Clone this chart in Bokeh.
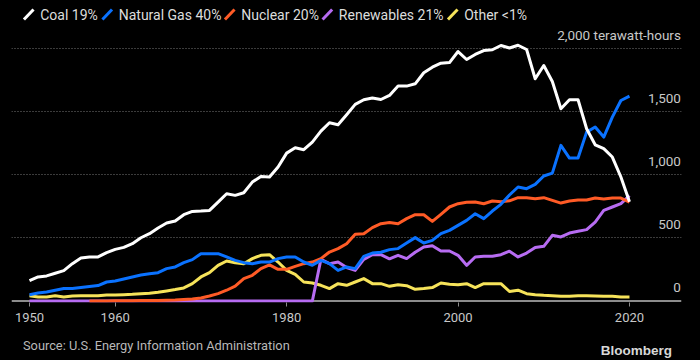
from bokeh.plotting import figure
from bokeh.layouts import column
from bokeh.models import Range1d, FixedTicker, Span
from bokeh.core.properties import value
from bokeh.embed import file_html
from bokeh.resources import INLINE

# ---------------- data (terawatt-hours) ----------------
years = list(range(1950, 2021))

coal = [160, 190, 198, 219, 240, 295, 340, 348, 348, 382,
        408, 424, 453, 500, 532, 577, 616, 632, 682, 708,
        711, 716, 782, 848, 835, 856, 940, 985, 980, 1059,
        1169, 1211, 1196, 1256, 1343, 1409, 1393, 1472, 1554, 1591,
        1604, 1593, 1625, 1699, 1699, 1717, 1804, 1848, 1880, 1885,
        1972, 1909, 1949, 1980, 1986, 2020, 2000, 2022, 1988, 1757,
        1862, 1735, 1520, 1591, 1591, 1362, 1235, 1204, 1138, 980,
        785]

gas = [50, 63, 71, 85, 98, 98, 106, 114, 122, 150,
       158, 174, 190, 205, 215, 224, 256, 269, 303, 327,
       374, 374, 374, 348, 321, 303, 295, 308, 308, 335,
       348, 348, 308, 282, 321, 295, 242, 269, 256, 353,
       379, 385, 406, 414, 458, 501, 458, 479, 532, 558,
       598, 637, 690, 651, 711, 764, 838, 901, 888, 922,
       988, 1011, 1230, 1130, 1130, 1335, 1375, 1296, 1454, 1585,
       1620]

nuclear_years = list(range(1957, 2021))
nuclear = [0, 0, 0, 1, 2, 2, 3, 3, 4, 5,
           7, 11, 16, 24, 39, 58, 85, 118, 177, 203,
           256, 285, 250, 250, 274, 295, 308, 335, 387, 414,
           453, 527, 532, 580, 611, 620, 611, 651, 682, 682,
           629, 685, 743, 769, 780, 782, 769, 790, 785, 792,
           817, 817, 809, 817, 795, 774, 790, 799, 799, 814,
           806, 814, 814, 782]

renewables = [0] * 34 + [
    329, 295, 308, 264, 242, 329,
    366, 366, 333, 361, 335, 385, 427, 437, 395, 395,
    361, 282, 348, 353, 353, 366, 394, 348, 379, 422,
    432, 519, 506, 537, 551, 564, 624, 716, 743, 769,
    833]

other = [42, 32, 32, 42, 32, 39, 42, 42, 42, 47,
         47, 50, 53, 58, 62, 69, 79, 90, 103, 137,
         190, 224, 282, 316, 303, 295, 335, 361, 366, 308,
         242, 211, 150, 142, 124, 98, 137, 124, 150, 177,
         137, 137, 116, 129, 121, 92, 98, 106, 142, 132,
         129, 137, 106, 137, 137, 137, 75, 85, 58, 50,
         45, 42, 37, 37, 42, 42, 40, 37, 37, 32,
         32]

names = ["Coal", "Natural Gas", "Nuclear", "Renewables", "Other"]
shares = ["19%", "40%", "20%", "21%", "<1%"]
colors = ["#ffffff", "#0a72ff", "#ff5b26", "#b76cf2", "#f6e35a"]

ytick_values = [0, 500, 1000, 1500, 2000]
ytick_labels = ["0", "500", "1,000", "1,500", "2,000 terawatt-hours"]
xtick_values = [1950, 1960, 1980, 2000, 2020]

source_text = "Source: U.S. Energy Information Administration"
brand_text = "Bloomberg"

# ---------------- styling ----------------
FONT = "Roboto"
BG = "#000000"
W = 700
X0, X1 = 1947.9, 2026.07
Y0, Y1 = -12, 2170

common = dict(output_backend="svg", toolbar_location=None,
              background_fill_color=BG, border_fill_color=BG,
              outline_line_color=None)

# ---------------- header (legend) ----------------
HH = 26
hdr = figure(width=W, height=HH, x_range=Range1d(0, W), y_range=Range1d(HH, 0),
             x_axis_location=None, y_axis_location=None, min_border=0, **common)
hdr.grid.visible = False
icon_x = [13, 95, 223, 325, 456]
hdr.segment(x0=icon_x, y0=[19] * 5, x1=[ix + 10 for ix in icon_x], y1=[9] * 5,
            line_color=colors, line_width=3)
hdr.text(x=[ix + 17 for ix in icon_x], y=[14] * 5,
         text=[f"{n} {s}" for n, s in zip(names, shares)],
         text_font=value(FONT), text_font_size="14px", text_color="#dcdcdc",
         text_baseline="middle", text_align="left")

# ---------------- main chart ----------------
p = figure(width=W, height=305, x_range=Range1d(X0, X1), y_range=Range1d(Y0, Y1),
           y_axis_location=None, min_border_left=11, min_border_right=19,
           min_border_top=0, min_border_bottom=29, **common)

p.xgrid.visible = False
p.ygrid.ticker = FixedTicker(ticks=ytick_values[1:])
p.ygrid.grid_line_color = "#777777"
p.ygrid.grid_line_dash = "1 2"
p.ygrid.grid_line_width = 1

p.add_layout(Span(location=0, dimension="width", line_color="#8c8c8c",
                  line_width=2, level="underlay"))

ax = p.xaxis[0]
ax.ticker = FixedTicker(ticks=xtick_values)
ax.axis_line_color = None
ax.major_tick_line_color = "#8c8c8c"
ax.major_tick_line_width = 1
ax.major_tick_in = 0
ax.major_tick_out = 4
ax.minor_tick_line_color = None
ax.major_label_standoff = 6
ax.major_label_text_font = FONT
ax.major_label_text_font_size = "13px"
ax.major_label_text_color = "#c8c8c8"

series = [(years, other, colors[4]),
          (years, renewables, colors[3]),
          (nuclear_years, nuclear, colors[2]),
          (years, gas, colors[1]),
          (years, coal, colors[0])]
for xs, ys, c in series:
    p.line(xs, ys, line_color=c, line_width=3, line_join="round")

p.text(x=[2026.0] * len(ytick_values), y=ytick_values, text=ytick_labels,
       text_align="right", text_baseline="middle", y_offset=-13,
       text_font=value(FONT), text_font_size="13.5px", text_color="#c8c8c8")

# ---------------- footer ----------------
FH = 29
ftr = figure(width=W, height=FH, x_range=Range1d(0, W), y_range=Range1d(FH, 0),
             x_axis_location=None, y_axis_location=None, min_border=0, **common)
ftr.grid.visible = False
ftr.text(x=[12], y=[14], text=[source_text], text_font=value(FONT),
         text_font_size="12.8px", text_color="#b8b8b8",
         text_baseline="middle", text_align="left")
ftr.text(x=[690], y=[19], text=[brand_text], text_font=value("Liberation Sans"),
         text_font_size="13.5px", text_font_style="bold", text_color="#d8d8d8",
         text_baseline="middle", text_align="right")

layout = column(hdr, p, ftr, spacing=0)

html = file_html(layout, INLINE)
html = html.replace("</head>", "<style>html,body{background:#000;}</style></head>", 1)
open("out.html", "w").write(html)
